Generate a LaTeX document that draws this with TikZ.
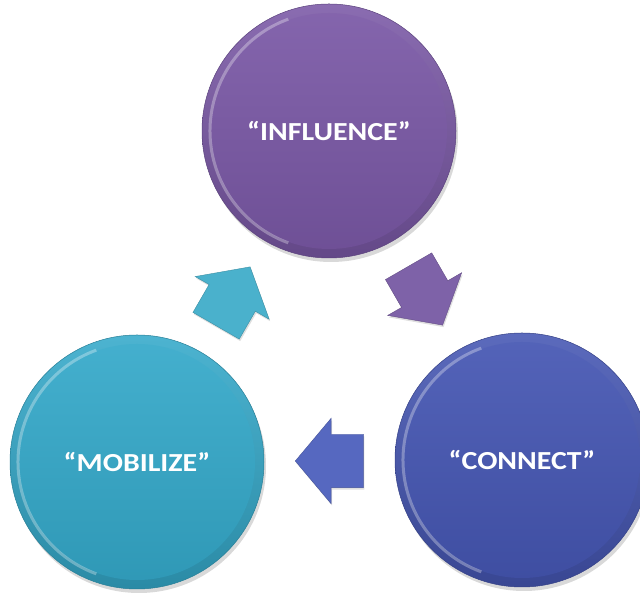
\documentclass[tikz,border=0pt]{standalone}
\usepackage{fontspec}
\setmainfont{Carlito}
\newfontfamily\stagefont[FakeStretch=1.15]{Carlito}
\usetikzlibrary{calc}
\usetikzlibrary{shapes.arrows}
\usetikzlibrary{shadows}

\definecolor{inflcol}{HTML}{7A58A6}
\definecolor{conncol}{HTML}{4556B3}
\definecolor{mobcol}{HTML}{34A9CA}
\definecolor{inflarr}{HTML}{7E62A8}
\definecolor{connarr}{HTML}{5668C0}
\definecolor{mobarr}{HTML}{4AB1CC}

\tikzset{x=1pt, y=1pt,
stage/.style={ % Big round disc with a bevelled rim
circle,
minimum size=254pt,
inner sep=0pt,
text=white,
font=\stagefont\bfseries\fontsize{26}{30}\selectfont,
draw=#1!75!black, line width=.5pt,
top color=#1!88!white, bottom color=#1!82!black,
drop shadow={opacity=.3, shadow xshift=2pt, shadow yshift=-4pt},
path picture={
\shade[top color=#1!92!white, bottom color=#1!90!black]
(path picture bounding box.center) circle (118pt);
\draw[white, opacity=.3, line width=3pt]
(path picture bounding box.center) ++(110:119pt) arc (110:250:119pt);
}},
step arrow/.style={ % Block arrow between two discs
single arrow,
single arrow head extend=16pt,
single arrow tip angle=100,
minimum height=68pt,
minimum width=85pt,
inner xsep=0pt, inner ysep=26.5pt,
fill=#1, draw=#1!80!black, line width=.4pt,
drop shadow={opacity=.25, shadow xshift=1pt, shadow yshift=-2pt}}}

\begin{document}
\begin{tikzpicture}
	\useasboundingbox (0,0) rectangle (640,596);

	\node[stage=inflcol] (infl) at (329,465) {“INFLUENCE”};
	\node[stage=mobcol] (mob) at (137,134) {“MOBILIZE”};
	\node[stage=conncol] (conn) at (522,136) {“CONNECT”};

	% arrows sit halfway between the discs (xshift centres the head too)
	\node[step arrow=mobarr, rotate=60, xshift=-11pt] (mob-infl) at ($(mob)!.5!(infl)$) {};
	\node[step arrow=inflarr, rotate=-60, xshift=-11pt] (infl-conn) at ($(infl)!.5!(conn)$) {};
	\node[step arrow=connarr, rotate=180, xshift=-11pt] (conn-mob) at ($(conn)!.5!(mob)$) {};
\end{tikzpicture}
\end{document}
